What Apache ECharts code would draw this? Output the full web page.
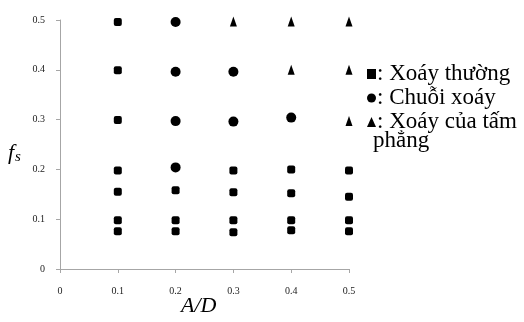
<!DOCTYPE html>
<html>
<head>
<meta charset="utf-8">
<script src="https://cdn.jsdelivr.net/npm/echarts@6/dist/echarts.min.js"></script>
<style>html,body{margin:0;padding:0;background:#fff}#c{width:524px;height:322px}</style>
</head>
<body>
<div id="c"></div>
<script>
var seriesNames = ['Xoáy thường', 'Chuỗi xoáy', 'Xoáy của tấm'];
var xTicks = [0, 0.1, 0.2, 0.3, 0.4, 0.5];
var yTicks = [0, 0.1, 0.2, 0.3, 0.4, 0.5];
var normalVortex = [
  [0.1, 0.496], [0.1, 0.399], [0.1, 0.299], [0.1, 0.198], [0.1, 0.155], [0.1, 0.098], [0.1, 0.076],
  [0.2, 0.158], [0.2, 0.098], [0.2, 0.076],
  [0.3, 0.198], [0.3, 0.154], [0.3, 0.098], [0.3, 0.074],
  [0.4, 0.200], [0.4, 0.152], [0.4, 0.098], [0.4, 0.078],
  [0.5, 0.198], [0.5, 0.145], [0.5, 0.098], [0.5, 0.076]
];
var vortexChain = [
  [0.2, 0.496], [0.2, 0.396], [0.2, 0.297], [0.2, 0.204],
  [0.3, 0.396], [0.3, 0.296],
  [0.4, 0.304]
];
var plateVortex = [
  [0.3, 0.497], [0.4, 0.497], [0.4, 0.400],
  [0.5, 0.497], [0.5, 0.400], [0.5, 0.297]
];

var chart = echarts.init(document.getElementById('c'));
var serif = '"Liberation Serif", "DejaVu Serif", serif';
var axisCommon = {
  min: 0, max: 0.5, interval: 0.1,
  axisLine: {show: true, lineStyle: {color: '#a6a6a6', width: 1}},
  axisTick: {show: true, length: 4, lineStyle: {color: '#a6a6a6'}},
  splitLine: {show: false},
  axisLabel: {color: '#222', fontFamily: serif, fontSize: 10}
};
function fmt(v){ return String(+v.toFixed(1)); }
chart.setOption({
  animation: false,
  backgroundColor: '#fff',
  grid: {left: 60, right: 175, top: 20, bottom: 53, containLabel: false},
  xAxis: Object.assign({}, axisCommon, {
    type: 'value',
    axisLabel: Object.assign({}, axisCommon.axisLabel, {margin: 17, formatter: fmt})
  }),
  yAxis: Object.assign({}, axisCommon, {
    type: 'value',
    axisLabel: Object.assign({}, axisCommon.axisLabel, {margin: 15, formatter: fmt})
  }),
  legend: {
    orient: 'vertical',
    left: 362, top: 57,
    itemWidth: 9, itemHeight: 10, itemGap: 0,
    data: [
      {name: seriesNames[0], icon: 'rect'},
      {name: seriesNames[1], icon: 'circle'},
      {name: seriesNames[2], icon: 'triangle'}
    ],
    formatter: function(n){ return ': ' + n; },
    textStyle: {fontFamily: serif, fontSize: 23, lineHeight: 24, color: '#000', padding: [0,0,0,-4]}
  },
  graphic: [
    {type: 'text', left: 373, top: 129, style: {text: 'phẳng', font: '23px ' + serif, fill: '#000'}},
    {type: 'text', left: 181, top: 295, style: {text: 'A/D', font: 'italic 22px ' + serif, fill: '#000'}},
    {type: 'text', left: 8, top: 142, style: {
      rich: {f: {font: 'italic 22px ' + serif, fill: '#000'}, s: {font: 'italic 15px ' + serif, fill: '#000', padding: [8,0,0,1]}},
      text: '{f|f}{s|s}'
    }}
  ],
  series: [
    {name: seriesNames[0], type: 'scatter', symbol: 'roundRect', symbolSize: [8, 8], itemStyle: {color: '#000', opacity: 1}, data: normalVortex},
    {name: seriesNames[1], type: 'scatter', symbol: 'circle', symbolSize: 10, itemStyle: {color: '#000', opacity: 1}, data: vortexChain},
    {name: seriesNames[2], type: 'scatter', symbol: 'triangle', symbolSize: [7, 10], itemStyle: {color: '#000', opacity: 1}, data: plateVortex}
  ]
});
</script>
</body>
</html>
